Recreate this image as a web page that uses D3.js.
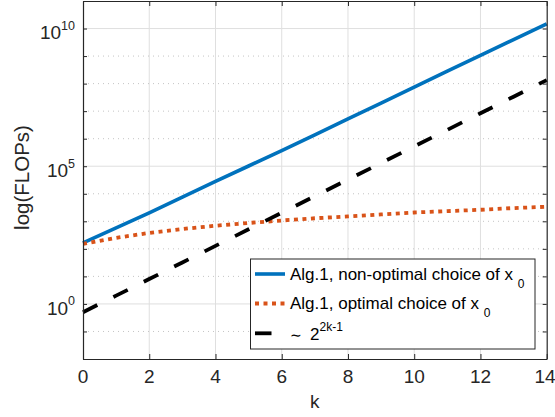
<!DOCTYPE html>
<html>
<head>
<meta charset="utf-8">
<script src="https://cdn.jsdelivr.net/npm/d3@7"></script>
<style>
  html, body { margin: 0; padding: 0; background: #fff; }
  svg { display: block; }
</style>
</head>
<body>
<svg id="chart" width="555" height="417"></svg>
<script>
// ---- data ----
const kValues = [0, 1, 2, 3, 4, 5, 6, 7, 8, 9, 10, 11, 12, 13, 14];
const nonOptimal = [166, 575, 2040, 7590, 28200, 102000, 372000, 1380000, 5250000, 19500000, 74100000, 282000000, 1070000000, 3980000000, 14800000000];
const optimal = [151, 251, 380, 525, 692, 871, 1070, 1290, 1510, 1780, 2090, 2340, 2630, 3020, 3390];
const reference = [0.5, 2, 8, 32, 128, 512, 2048, 8192, 32768, 131072, 524288, 2097152, 8388608, 33554432, 134217728];
const xTicks = [0, 2, 4, 6, 8, 10, 12, 14];
const yMajorTicks = [1, 1e5, 1e10];
const yMajorExponents = ["0", "5", "10"];
const yDecadeTicks = [1e-2, 1e-1, 1, 1e1, 1e2, 1e3, 1e4, 1e5, 1e6, 1e7, 1e8, 1e9, 1e10, 1e11];
const seriesNames = ["Alg.1, non-optimal choice of x ", "Alg.1, optimal choice of x "];

// ---- layout ----
const FONT = "Liberation Sans";
const L = 83, R = 546.7, T = 1, B = 359;
const svg = d3.select("#chart").attr("font-family", FONT);
const x = d3.scaleLinear().domain([0, 14]).range([L, R]);
const y = d3.scaleLog().domain([1e-2, 1e11]).range([B, T]);

const blue = "#0072BD", orange = "#D95319";
const axisColor = "#262626";

// ---- grid ----
const grid = svg.append("g");
grid.selectAll("line.xg").data(xTicks.slice(1, -1)).join("line")
  .attr("x1", d => x(d)).attr("x2", d => x(d)).attr("y1", T).attr("y2", B)
  .attr("stroke", "#dfdfdf").attr("stroke-width", 1);
grid.selectAll("line.ym").data(yDecadeTicks.filter(d => !yMajorTicks.includes(d) && d > 1e-2 && d < 1e11)).join("line")
  .attr("x1", L).attr("x2", R).attr("y1", d => y(d)).attr("y2", d => y(d))
  .attr("stroke", "#c4c4c4").attr("stroke-width", 1).attr("stroke-dasharray", "1,4");
grid.selectAll("line.yM").data(yMajorTicks).join("line")
  .attr("x1", L).attr("x2", R).attr("y1", d => y(d)).attr("y2", d => y(d))
  .attr("stroke", "#dfdfdf").attr("stroke-width", 1);

// ---- series ----
const line = d3.line().x((d, i) => x(kValues[i])).y(d => y(d));
svg.append("path").datum(nonOptimal).attr("d", line)
  .attr("fill", "none").attr("stroke", blue).attr("stroke-width", 3.6);
svg.append("path").datum(optimal).attr("d", line)
  .attr("fill", "none").attr("stroke", orange).attr("stroke-width", 3.8)
  .attr("stroke-dasharray", "4,4.5");
svg.append("path").datum(reference).attr("d", line)
  .attr("fill", "none").attr("stroke", "#000").attr("stroke-width", 3.8)
  .attr("stroke-dasharray", "16,18");

// ---- axes ----
const axB = svg.append("g").attr("transform", `translate(0,${B})`)
  .call(d3.axisBottom(x).tickValues(xTicks).tickSize(-5).tickSizeOuter(0).tickFormat(""));
const axT = svg.append("g").attr("transform", `translate(0,${T})`)
  .call(d3.axisTop(x).tickValues(xTicks).tickSize(-5).tickSizeOuter(0).tickFormat(""));
const axL = svg.append("g").attr("transform", `translate(${L},0)`)
  .call(d3.axisLeft(y).tickValues(yDecadeTicks).tickSize(-4).tickSizeOuter(0).tickFormat(""));
const axR = svg.append("g").attr("transform", `translate(${R},0)`)
  .call(d3.axisRight(y).tickValues(yDecadeTicks).tickSize(-4).tickSizeOuter(0).tickFormat(""));
[axB, axT, axL, axR].forEach(a => {
  a.attr("font-family", FONT);
  a.select(".domain").attr("stroke", axisColor).attr("stroke-width", 1.2);
  a.selectAll(".tick line").attr("stroke", axisColor).attr("stroke-width", 1);
});

// x tick labels
svg.append("g").selectAll("text").data(xTicks).join("text")
  .attr("font-family", FONT)
  .attr("x", d => Math.min(x(d), 545)).attr("y", 383)
  .attr("text-anchor", "middle").attr("font-size", 19).attr("fill", axisColor)
  .text(d => d);

// y tick labels 10^n
const yl = svg.append("g").selectAll("text").data(yMajorTicks).join("text")
  .attr("font-family", FONT)
  .attr("x", 75).attr("y", d => y(d) + 10.8)
  .attr("text-anchor", "end").attr("font-size", 19).attr("fill", axisColor);
yl.append("tspan").text("10");
yl.append("tspan").attr("font-size", 12.5).attr("dy", -9.5).text((d, i) => yMajorExponents[i]);

// axis titles
svg.append("text").attr("font-family", FONT).attr("x", (L + R) / 2).attr("y", 408)
  .attr("text-anchor", "middle").attr("font-size", 19).attr("fill", axisColor).text("k");
svg.append("text").attr("font-family", FONT).attr("transform", `translate(28.5,177.5) rotate(-90)`)
  .attr("text-anchor", "middle").attr("font-size", 20.5).attr("fill", axisColor).text("log(FLOPs)");

// ---- legend ----
const lg = svg.append("g").attr("font-family", FONT);
lg.append("rect").attr("x", 250.5).attr("y", 259).attr("width", 284.5).attr("height", 90)
  .attr("fill", "#fff").attr("stroke", axisColor).attr("stroke-width", 1);
const rows = [274, 303.5, 333.3];
lg.append("line").attr("x1", 255).attr("x2", 285).attr("y1", rows[0]).attr("y2", rows[0])
  .attr("stroke", blue).attr("stroke-width", 3.6);
lg.append("line").attr("x1", 255).attr("x2", 285).attr("y1", rows[1]).attr("y2", rows[1])
  .attr("stroke", orange).attr("stroke-width", 3.8).attr("stroke-dasharray", "4,4.5");
lg.append("line").attr("x1", 255).attr("x2", 271.5).attr("y1", rows[2]).attr("y2", rows[2])
  .attr("stroke", "#000").attr("stroke-width", 3.8);

[0, 1].forEach(i => {
  const t = lg.append("text").attr("font-family", FONT).attr("x", 290).attr("y", rows[i] + 5.5)
    .attr("font-size", 17).attr("fill", "#000");
  t.append("tspan").text(seriesNames[i]);
  t.append("tspan").attr("font-size", 12).attr("dy", 8).text("0");
});
const t3 = lg.append("text").attr("font-family", FONT).attr("x", 290).attr("y", rows[2] + 6.5)
  .attr("font-size", 17).attr("fill", "#000");
t3.append("tspan").attr("font-size", 14).attr("dy", 0).text("\u223C");
t3.append("tspan").attr("dx", 8).text("2");
t3.append("tspan").attr("font-size", 12).attr("dy", -9).text("2k-1");
</script>
</body>
</html>
